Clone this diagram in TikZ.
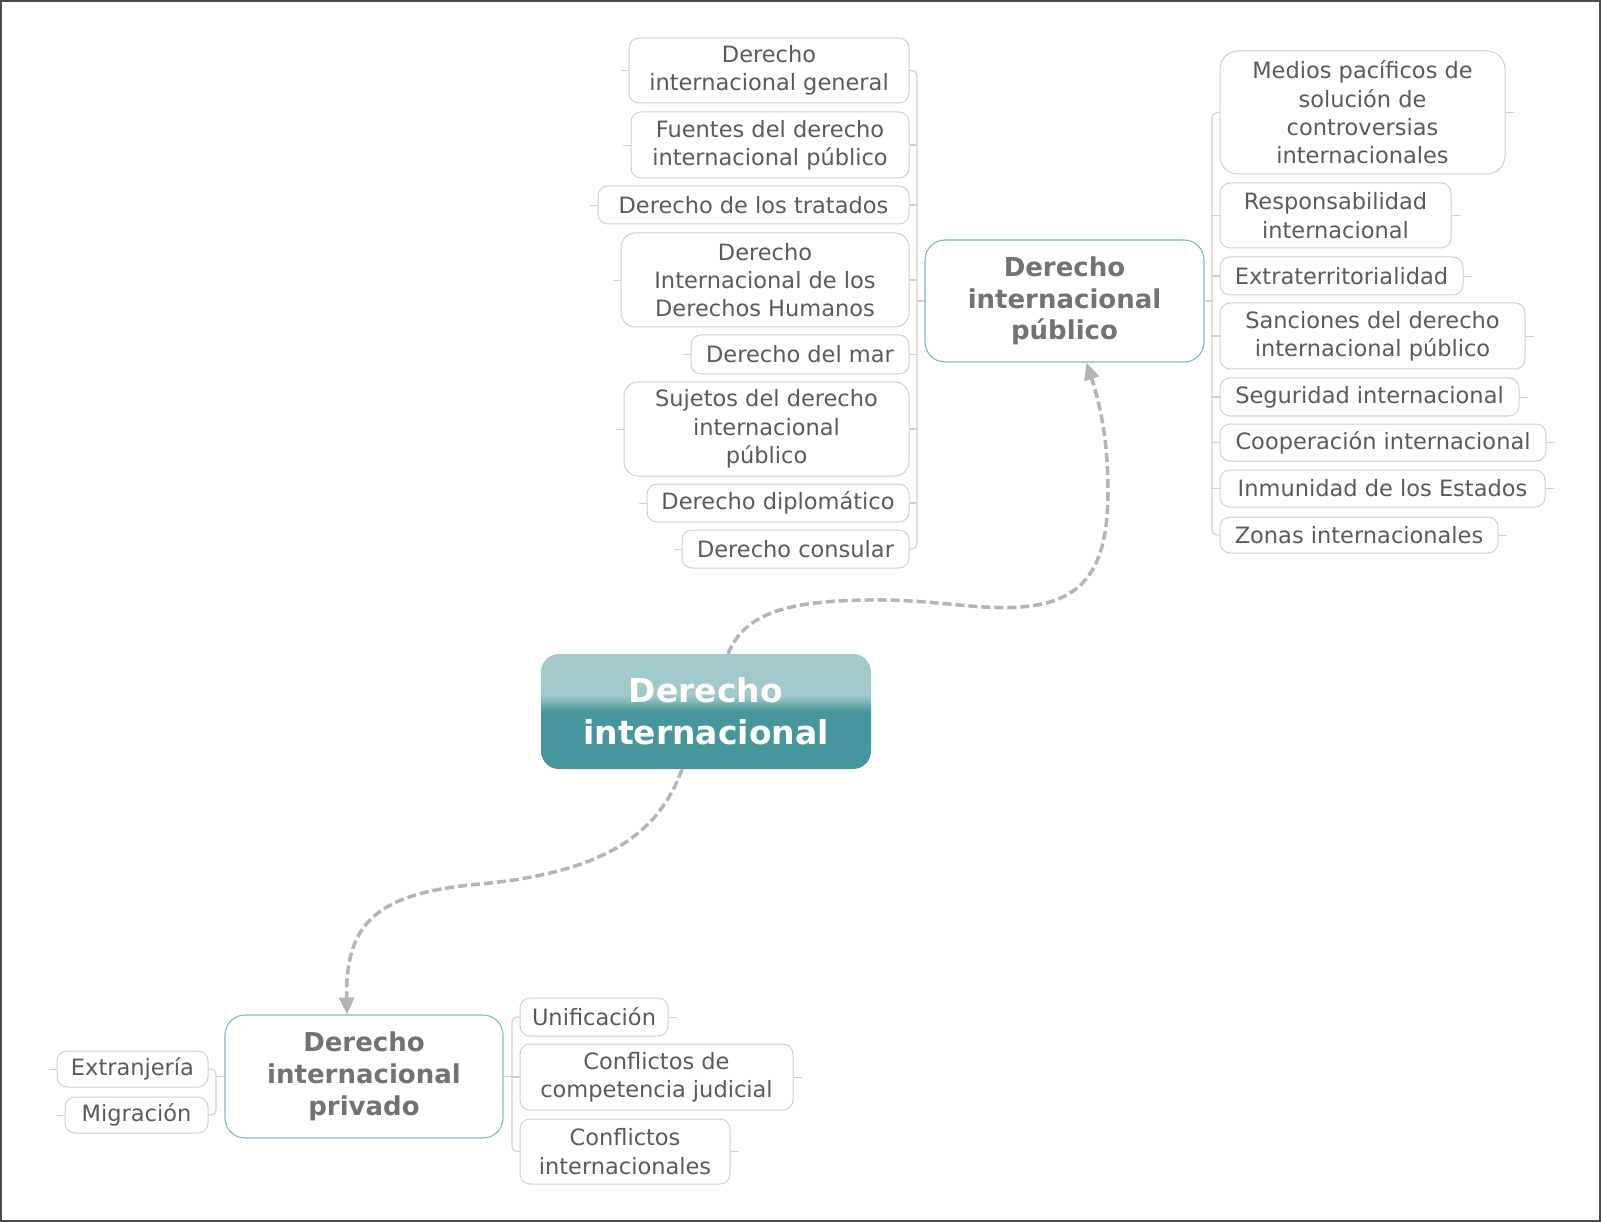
\documentclass[tikz,border=0pt]{standalone}
\usepackage{fontspec}
\setmainfont{DejaVu Sans}
\usetikzlibrary{arrows.meta,calc}
\definecolor{txt}{HTML}{5A5A5A}
\definecolor{btxt}{HTML}{727272}
\definecolor{subline}{HTML}{D6CFC8}
\definecolor{tealline}{HTML}{78BCC2}
\definecolor{dashc}{HTML}{B3B3B8}
\definecolor{lightteal}{HTML}{A1C9CC}
\definecolor{darkteal}{HTML}{46979D}
\pgfdeclareverticalshading{centralshade}{100bp}{color(0bp)=(darkteal); color(25bp)=(darkteal); color(50bp)=(darkteal); color(57bp)=(lightteal); color(75bp)=(lightteal); color(100bp)=(lightteal)}
\tikzset{
  sub/.style={draw=subline, line width=1pt, rounded corners=10pt, fill=white, text=txt,
    align=center, inner sep=0pt, font=\fontsize{22.5}{28.3}\selectfont},
  maintopic/.style={draw=tealline, line width=1.1pt, rounded corners=20pt, fill=white, text=btxt,
    align=center, inner sep=0pt, font=\fontsize{26}{31.7}\selectfont\bfseries},
  central/.style={rounded corners=18pt, shading=centralshade, text=white,
    align=center, inner sep=0pt, font=\fontsize{33}{42}\selectfont\bfseries},
  conn/.style={draw=subline, line width=1.1pt, rounded corners=5pt},
  stub/.style={draw=subline, line width=0.8pt},
  rel/.style={draw=dashc, line width=3.5pt, dash pattern=on 9pt off 4pt,
    -{Triangle[length=17pt,width=15pt]}},
}
\begin{document}
\begin{tikzpicture}[x=1pt,y=-1pt]
\useasboundingbox (0,0) rectangle (1601,1222);
\fill[white] (0,0) rectangle (1601,1222);
\draw[line width=1.5pt, color=black!70] (1,1) rectangle (1600,1221);

% central
\node[central, minimum width=330pt, minimum height=115pt] (ci) at (706,711.5) {Derecho\\internacional};

% main topics
\node[maintopic, minimum width=279pt, minimum height=122pt] (dip) at (1064.5,301) {Derecho\\internacional\\público};
\node[maintopic, minimum width=278pt, minimum height=123pt] (dpr) at (364,1076.5) {Derecho\\internacional\\privado};

% left children of DIP
\node[sub, minimum width=280pt, minimum height=65pt] (l1) at (769,70.5) {Derecho\\internacional general};
\node[sub, minimum width=278pt, minimum height=66pt] (l2) at (770,145) {Fuentes del derecho\\internacional público};
\node[sub, minimum width=311pt, minimum height=38pt] (l3) at (753.5,205) {Derecho de los tratados};
\node[sub, minimum width=288pt, minimum height=94pt, rounded corners=14pt] (l4) at (765,280) {Derecho\\Internacional de los\\Derechos Humanos};
\node[sub, minimum width=218pt, minimum height=39pt] (l5) at (800,354.5) {Derecho del mar};
\node[sub, minimum width=285pt, minimum height=94pt, rounded corners=14pt] (l6) at (766.5,429) {Sujetos del derecho\\internacional\\público};
\node[sub, minimum width=262pt, minimum height=38pt] (l7) at (778,503) {Derecho diplomático};
\node[sub, minimum width=227pt, minimum height=38pt] (l8) at (795.5,549) {Derecho consular};

% right children of DIP
\node[sub, minimum width=285pt, minimum height=123pt, rounded corners=18pt] (r1) at (1362.5,112.5) {Medios pacíficos de\\solución de\\controversias\\internacionales};
\node[sub, minimum width=231pt, minimum height=65pt] (r2) at (1335.5,215.5) {Responsabilidad\\internacional};
\node[sub, minimum width=243pt, minimum height=38pt] (r3) at (1341.5,276) {Extraterritorialidad};
\node[sub, minimum width=305pt, minimum height=66pt] (r4) at (1372.5,336) {Sanciones del derecho\\internacional público};
\node[sub, minimum width=299pt, minimum height=38pt] (r5) at (1369.5,397) {Seguridad internacional};
\node[sub, minimum width=326pt, minimum height=37pt] (r6) at (1383,442.5) {Cooperación internacional};
\node[sub, minimum width=325pt, minimum height=37pt] (r7) at (1382.5,488.5) {Inmunidad de los Estados};
\node[sub, minimum width=278pt, minimum height=36pt] (r8) at (1359,535) {Zonas internacionales};

% children of DIPr
\node[sub, minimum width=151pt, minimum height=36pt] (p1) at (132.5,1069) {Extranjería};
\node[sub, minimum width=143pt, minimum height=36pt] (p2) at (136.5,1115) {Migración};
\node[sub, minimum width=148pt, minimum height=38pt] (q1) at (594,1017) {Unificación};
\node[sub, minimum width=273pt, minimum height=66pt] (q2) at (656.5,1077) {Conflictos de\\competencia judicial};
\node[sub, minimum width=210pt, minimum height=65pt] (q3) at (625,1151.5) {Conflictos\\internacionales};

% bus coordinates
\coordinate (busL) at (917,0);
\coordinate (busR) at (1212,0);
\coordinate (busP) at (216,0);
\coordinate (busQ) at (512,0);

% DIP left connectors
\draw[conn] (l1.east) -- (l1.east -| busL) -- (l8.east -| busL) -- (l8.east);
\foreach \n in {l2,l3,l4,l5,l6,l7} \draw[conn] (\n.east) -- (\n.east -| busL);
\draw[conn] (dip.west) -- (dip.west -| busL);
\foreach \n in {l1,l2,l3,l4,l5,l6,l7,l8} \draw[stub] (\n.west) -- ++(-8,0);

% DIP right connectors
\draw[conn] (r1.west) -- (r1.west -| busR) -- (r8.west -| busR) -- (r8.west);
\foreach \n in {r2,r3,r4,r5,r6,r7} \draw[conn] (\n.west) -- (\n.west -| busR);
\draw[conn] (dip.east) -- (dip.east -| busR);
\foreach \n in {r1,r2,r3,r4,r5,r6,r7,r8} \draw[stub] (\n.east) -- ++(8,0);

% DIPr connectors
\draw[conn] (p1.east) -- (p1.east -| busP) -- (p2.east -| busP) -- (p2.east);
\draw[conn] (dpr.west) -- (dpr.west -| busP);
\foreach \n in {p1,p2} \draw[stub] (\n.west) -- ++(-8,0);
\draw[conn] (q1.west) -- (q1.west -| busQ) -- (q3.west -| busQ) -- (q3.west);
\draw[conn] (q2.west) -- (q2.west -| busQ);
\draw[conn] (dpr.east) -- (dpr.east -| busQ);
\foreach \n in {q1,q2,q3} \draw[stub] (\n.east) -- ++(8,0);

% relationships
\draw[rel] ($(ci.north)+(22,0)$) .. controls (745,612) and (790,601) .. (868,600)
  .. controls (940,599) and (980,612) .. (1031,606)
  .. controls (1090,598) and (1108,560) .. (1108,490)
  .. controls (1108,430) and (1096,392) .. ($(dip.south)+(22,0)$);
\draw[rel] ($(ci.south)+(-24,0)$) .. controls (660,830) and (610,872) .. (480,884)
  .. controls (380,893) and (345,920) .. ($(dpr.north)+(-17,0)$);
\end{tikzpicture}
\end{document}
